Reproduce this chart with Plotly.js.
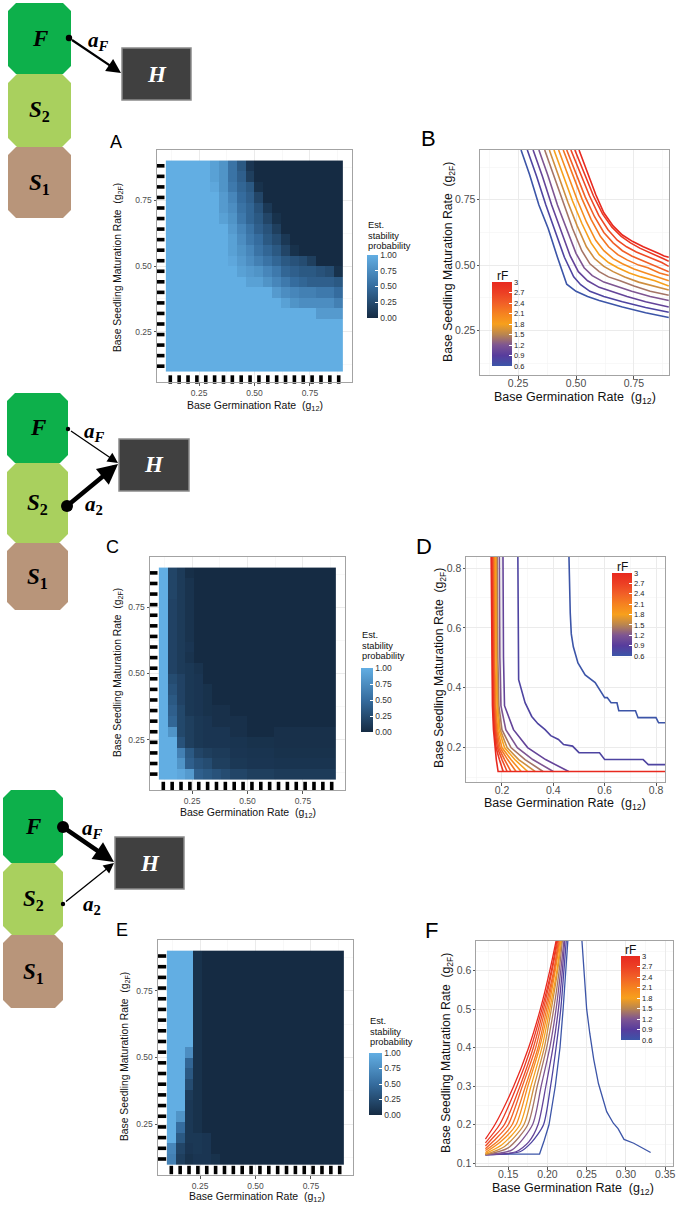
<!DOCTYPE html>
<html><head><meta charset="utf-8">
<script src="https://cdn.plot.ly/plotly-3.0.1.min.js"></script>
<style>html,body{margin:0;padding:0;background:#fff}#chart{width:677px;height:1206px}</style>
</head><body><div id="chart"></div>
<script>
// ---------------- DATA ----------------
const g12 = [0.12,0.16,0.20,0.24,0.28,0.32,0.36,0.40,0.44,0.48,0.52,0.56,0.60,0.64,0.68,0.72,0.76,0.80,0.84,0.88];
const g2F = [0.88,0.84,0.80,0.76,0.72,0.68,0.64,0.60,0.56,0.52,0.48,0.44,0.40,0.36,0.32,0.28,0.24,0.20,0.16,0.12]; // rows top -> bottom

const stabA = [
[1,1,1,1,1,.9,.8,.55,.35,.08,0,0,0,0,0,0,0,0,0,0],
[1,1,1,1,1,.9,.8,.55,.4,.15,0,0,0,0,0,0,0,0,0,0],
[1,1,1,1,1,.95,.8,.6,.45,.35,.05,0,0,0,0,0,0,0,0,0],
[1,1,1,1,1,1,.85,.7,.5,.4,.2,0,0,0,0,0,0,0,0,0],
[1,1,1,1,1,1,.85,.75,.55,.45,.3,.1,0,0,0,0,0,0,0,0],
[1,1,1,1,1,1,.9,.8,.6,.45,.35,.2,.05,0,0,0,0,0,0,0],
[1,1,1,1,1,1,1,.85,.7,.55,.4,.3,.15,0,0,0,0,0,0,0],
[1,1,1,1,1,1,1,.9,.75,.6,.5,.35,.25,.1,0,0,0,0,0,0],
[1,1,1,1,1,1,1,.9,.8,.7,.55,.45,.35,.2,.05,0,0,0,0,0],
[1,1,1,1,1,1,1,.95,.85,.75,.65,.55,.45,.35,.3,.25,.15,0,0,0],
[1,1,1,1,1,1,1,1,.9,.85,.8,.7,.6,.45,.4,.35,.35,.3,.25,.05],
[1,1,1,1,1,1,1,1,1,.9,.9,.8,.7,.6,.5,.45,.4,.4,.4,.35],
[1,1,1,1,1,1,1,1,1,1,1,1,.85,.75,.7,.65,.65,.6,.6,.5],
[1,1,1,1,1,1,1,1,1,1,1,1,1,.9,.8,.75,.75,.75,.75,.65],
[1,1,1,1,1,1,1,1,1,1,1,1,1,1,1,1,1,.85,.85,.85],
[1,1,1,1,1,1,1,1,1,1,1,1,1,1,1,1,1,1,1,1],
[1,1,1,1,1,1,1,1,1,1,1,1,1,1,1,1,1,1,1,1],
[1,1,1,1,1,1,1,1,1,1,1,1,1,1,1,1,1,1,1,1],
[1,1,1,1,1,1,1,1,1,1,1,1,1,1,1,1,1,1,1,1],
[1,1,1,1,1,1,1,1,1,1,1,1,1,1,1,1,1,1,1,1]
];
const stabC = [
[1,.2,.12,.03,0,0,0,0,0,0,0,0,0,0,0,0,0,0,0,0],
[1,.2,.12,.06,0,0,0,0,0,0,0,0,0,0,0,0,0,0,0,0],
[1,.2,.12,.06,0,0,0,0,0,0,0,0,0,0,0,0,0,0,0,0],
[1,.18,.12,.06,0,0,0,0,0,0,0,0,0,0,0,0,0,0,0,0],
[1,.18,.12,.06,0,0,0,0,0,0,0,0,0,0,0,0,0,0,0,0],
[1,.18,.12,.06,0,0,0,0,0,0,0,0,0,0,0,0,0,0,0,0],
[1,.18,.12,.06,0,0,0,0,0,0,0,0,0,0,0,0,0,0,0,0],
[1,.18,.12,.08,0,0,0,0,0,0,0,0,0,0,0,0,0,0,0,0],
[1,.18,.12,.06,0,0,0,0,0,0,0,0,0,0,0,0,0,0,0,0],
[1,.18,.12,.1,.06,0,0,0,0,0,0,0,0,0,0,0,0,0,0,0],
[1,.25,.18,.1,.08,0,0,0,0,0,0,0,0,0,0,0,0,0,0,0],
[1,.3,.18,.1,.08,.05,0,0,0,0,0,0,0,0,0,0,0,0,0,0],
[1,.35,.18,.1,.08,.05,0,0,0,0,0,0,0,0,0,0,0,0,0,0],
[1,.4,.22,.1,.08,.05,.04,.04,0,0,0,0,0,0,0,0,0,0,0,0],
[1,.45,.22,.15,.1,.08,.04,.04,.04,.04,0,0,0,0,0,0,0,0,0,0],
[1,.8,.22,.15,.1,.08,.08,.08,.04,.04,0,0,0,.04,.04,.04,.04,.04,.04,.04],
[1,1,.3,.15,.1,.08,.08,.08,.07,.07,.05,.05,.05,.04,.04,.04,.04,.04,.04,.04],
[1,1,.65,.35,.2,.15,.12,.12,.08,.08,.07,.07,.07,.05,.05,.05,.05,.05,.05,.05],
[1,1,.8,.4,.3,.25,.15,.15,.1,.1,.08,.08,.08,.07,.07,.07,.07,.07,.07,.07],
[1,1,.95,.85,.4,.35,.3,.25,.2,.2,.15,.15,.15,.12,.12,.12,.12,.12,.12,.12]
];
const stabE = [
[1,1,1,.05,0,0,0,0,0,0,0,0,0,0,0,0,0,0,0,0],
[1,1,1,.05,0,0,0,0,0,0,0,0,0,0,0,0,0,0,0,0],
[1,1,1,.05,0,0,0,0,0,0,0,0,0,0,0,0,0,0,0,0],
[1,1,1,.05,0,0,0,0,0,0,0,0,0,0,0,0,0,0,0,0],
[1,1,1,.05,0,0,0,0,0,0,0,0,0,0,0,0,0,0,0,0],
[1,1,1,.05,0,0,0,0,0,0,0,0,0,0,0,0,0,0,0,0],
[1,1,1,.05,0,0,0,0,0,0,0,0,0,0,0,0,0,0,0,0],
[1,1,1,.05,0,0,0,0,0,0,0,0,0,0,0,0,0,0,0,0],
[1,1,1,.05,0,0,0,0,0,0,0,0,0,0,0,0,0,0,0,0],
[1,1,.75,.05,0,0,0,0,0,0,0,0,0,0,0,0,0,0,0,0],
[1,1,.45,.05,0,0,0,0,0,0,0,0,0,0,0,0,0,0,0,0],
[1,1,.35,.05,0,0,0,0,0,0,0,0,0,0,0,0,0,0,0,0],
[1,1,.25,.05,0,0,0,0,0,0,0,0,0,0,0,0,0,0,0,0],
[1,1,.12,.05,0,0,0,0,0,0,0,0,0,0,0,0,0,0,0,0],
[1,1,.1,.05,0,0,0,0,0,0,0,0,0,0,0,0,0,0,0,0],
[1,.8,.1,.05,0,0,0,0,0,0,0,0,0,0,0,0,0,0,0,0],
[1,.5,.1,.05,0,0,0,0,0,0,0,0,0,0,0,0,0,0,0,0],
[1,.35,.1,.1,.08,0,0,0,0,0,0,0,0,0,0,0,0,0,0,0],
[.7,.2,.08,.1,.08,0,0,0,0,0,0,0,0,0,0,0,0,0,0,0],
[.65,.15,.05,.08,.08,.05,0,0,0,0,0,0,0,0,0,0,0,0,0,0]
];

const rF = [0.6,0.8,1.0,1.2,1.4,1.6,1.8,2.0,2.2,2.4,2.6,2.8,3.0];
const rFTicks = [0.6,0.9,1.2,1.5,1.8,2.1,2.4,2.7,3.0];
const rFTickText = ['0.6','0.9','1.2','1.5','1.8','2.1','2.4','2.7','3'];
const stabTicks = [0,0.25,0.5,0.75,1];
const stabTickText = ['0.00','0.25','0.50','0.75','1.00'];

// Panel B contour lines (one per rF value)
const B_X = [
[0.263,0.30,0.34,0.38,0.42,0.46,0.50,0.55,0.60,0.70,0.80,0.90],
[0.29,0.33,0.37,0.41,0.45,0.49,0.52,0.56,0.62,0.70,0.80,0.90],
[0.315,0.355,0.395,0.435,0.475,0.51,0.55,0.60,0.65,0.72,0.80,0.90],
[0.34,0.38,0.42,0.46,0.50,0.535,0.57,0.62,0.67,0.74,0.82,0.90],
[0.365,0.405,0.445,0.485,0.525,0.56,0.60,0.64,0.69,0.75,0.82,0.90],
[0.385,0.425,0.465,0.505,0.545,0.58,0.62,0.66,0.71,0.77,0.83,0.90],
[0.405,0.445,0.485,0.525,0.565,0.60,0.64,0.68,0.73,0.78,0.84,0.90],
[0.425,0.465,0.505,0.545,0.585,0.62,0.66,0.70,0.75,0.80,0.85,0.90],
[0.445,0.485,0.525,0.565,0.605,0.64,0.68,0.72,0.77,0.81,0.86,0.90],
[0.46,0.50,0.54,0.58,0.62,0.66,0.70,0.74,0.78,0.82,0.86,0.90],
[0.478,0.518,0.558,0.598,0.638,0.678,0.718,0.76,0.80,0.84,0.87,0.90],
[0.495,0.535,0.575,0.615,0.655,0.695,0.735,0.775,0.81,0.845,0.875,0.90],
[0.513,0.55,0.585,0.62,0.66,0.70,0.745,0.79,0.825,0.855,0.88,0.90]
];
const B_Y = [
[0.94,0.845,0.73,0.64,0.53,0.427,0.40,0.38,0.365,0.34,0.318,0.30],
[0.94,0.84,0.73,0.63,0.53,0.455,0.425,0.40,0.38,0.36,0.338,0.32],
[0.94,0.84,0.73,0.63,0.535,0.475,0.44,0.415,0.40,0.38,0.36,0.34],
[0.94,0.84,0.73,0.635,0.545,0.49,0.46,0.435,0.42,0.40,0.38,0.365],
[0.94,0.84,0.735,0.64,0.555,0.505,0.475,0.455,0.44,0.42,0.40,0.385],
[0.94,0.84,0.74,0.65,0.57,0.525,0.495,0.475,0.455,0.435,0.42,0.405],
[0.94,0.845,0.745,0.66,0.585,0.54,0.51,0.49,0.47,0.455,0.44,0.42],
[0.94,0.845,0.75,0.665,0.595,0.555,0.525,0.505,0.485,0.47,0.455,0.44],
[0.94,0.85,0.755,0.675,0.61,0.57,0.54,0.52,0.50,0.49,0.47,0.46],
[0.94,0.85,0.76,0.685,0.625,0.585,0.555,0.535,0.52,0.505,0.49,0.475],
[0.94,0.85,0.765,0.69,0.635,0.595,0.57,0.55,0.535,0.52,0.51,0.495],
[0.94,0.85,0.765,0.695,0.645,0.61,0.585,0.565,0.55,0.535,0.525,0.515],
[0.94,0.85,0.77,0.70,0.65,0.615,0.59,0.57,0.555,0.545,0.535,0.53]
];

// Panel D contour lines
const D_X = [
[0.461,0.463,0.466,0.47,0.478,0.496,0.524,0.563,0.60,0.61,0.625,0.648,0.655,0.72,0.73,0.80,0.81,0.835],
[0.262,0.263,0.265,0.29,0.316,0.34,0.368,0.39,0.42,0.44,0.475,0.50,0.58,0.60,0.75,0.77,0.835],
[0.204,0.206,0.21,0.245,0.30,0.37,0.46],
[0.19,0.192,0.196,0.215,0.26,0.32,0.40],
[0.182,0.184,0.188,0.2,0.235,0.29,0.36],
[0.178,0.18,0.184,0.193,0.22,0.265,0.33],
[0.175,0.177,0.181,0.188,0.21,0.25,0.30],
[0.17,0.172,0.176,0.183,0.2,0.235,0.275],
[0.167,0.169,0.173,0.179,0.193,0.222,0.255],
[0.165,0.167,0.17,0.176,0.187,0.21,0.235],
[0.162,0.164,0.167,0.173,0.182,0.2,0.22],
[0.16,0.162,0.165,0.17,0.177,0.19,0.205],
[0.158,0.16,0.163,0.167,0.172,0.178,0.185,0.835]
];
const D_Y = [
[0.837,0.75,0.65,0.58,0.537,0.483,0.443,0.417,0.367,0.367,0.35,0.35,0.323,0.323,0.30,0.30,0.283,0.283],
[0.837,0.6,0.427,0.35,0.304,0.28,0.26,0.24,0.227,0.21,0.205,0.183,0.183,0.16,0.16,0.143,0.143],
[0.837,0.5,0.34,0.26,0.2,0.16,0.12],
[0.837,0.5,0.34,0.26,0.2,0.16,0.12],
[0.837,0.5,0.34,0.26,0.2,0.16,0.12],
[0.837,0.5,0.34,0.26,0.2,0.16,0.12],
[0.837,0.5,0.34,0.26,0.2,0.16,0.12],
[0.837,0.5,0.34,0.26,0.2,0.16,0.12],
[0.837,0.5,0.34,0.26,0.2,0.16,0.12],
[0.837,0.5,0.34,0.26,0.2,0.16,0.12],
[0.837,0.5,0.34,0.26,0.2,0.16,0.12],
[0.837,0.5,0.34,0.26,0.2,0.16,0.12],
[0.837,0.5,0.34,0.26,0.2,0.16,0.12,0.12]
];

// Panel F contour lines (rF = 0.6 has two branches)
const F_X = [
[0.121,0.19,0.196,0.202,0.21,0.216,0.22,0.223,0.226],
[0.121,0.165,0.18,0.195,0.204,0.211,0.217,0.221,0.224],
[0.121,0.16,0.176,0.188,0.198,0.207,0.214,0.219,0.222],
[0.121,0.155,0.181,0.192,0.203,0.211,0.217,0.221],
[0.121,0.15,0.175,0.187,0.199,0.208,0.215,0.219],
[0.121,0.145,0.17,0.183,0.196,0.205,0.213,0.218],
[0.121,0.142,0.165,0.179,0.193,0.203,0.212,0.217],
[0.121,0.14,0.16,0.175,0.19,0.201,0.21,0.216],
[0.121,0.138,0.155,0.172,0.188,0.199,0.209,0.215],
[0.121,0.135,0.15,0.168,0.185,0.197,0.208,0.214],
[0.121,0.13,0.145,0.165,0.182,0.195,0.206,0.213],
[0.121,0.139,0.161,0.179,0.193,0.205,0.212],
[0.121,0.133,0.157,0.176,0.191,0.203,0.211]
];
const F_Y = [
[0.124,0.124,0.16,0.2,0.3,0.4,0.5,0.6,0.677],
[0.122,0.13,0.155,0.2,0.3,0.4,0.5,0.6,0.677],
[0.122,0.13,0.155,0.2,0.3,0.4,0.5,0.6,0.677],
[0.122,0.135,0.2,0.3,0.4,0.5,0.6,0.677],
[0.122,0.14,0.2,0.3,0.4,0.5,0.6,0.677],
[0.123,0.143,0.2,0.3,0.4,0.5,0.6,0.677],
[0.125,0.148,0.2,0.3,0.4,0.5,0.6,0.677],
[0.128,0.155,0.2,0.3,0.4,0.5,0.6,0.677],
[0.133,0.16,0.2,0.3,0.4,0.5,0.6,0.677],
[0.138,0.165,0.2,0.3,0.4,0.5,0.6,0.677],
[0.145,0.165,0.2,0.3,0.4,0.5,0.6,0.677],
[0.153,0.2,0.3,0.4,0.5,0.6,0.677],
[0.163,0.2,0.3,0.4,0.5,0.6,0.677]
];
const F_blueRight_X = [0.244,0.247,0.25,0.254,0.259,0.265,0.2755,0.284,0.29,0.2976,0.31,0.3315];
const F_blueRight_Y = [0.677,0.58,0.5,0.437,0.37,0.307,0.234,0.204,0.19,0.162,0.152,0.128];

// ---------------- STYLE / LAYOUT HELPERS ----------------
const W = 677, H = 1206;
const px = X => X / W;
const py = Y => 1 - Y / H;

const heatScale = [[0,'#152B43'],[0.5,'#356C9E'],[1,'#62AEE3']];
const rfStops = [[0,'#3C55A8'],[0.125,'#573C9D'],[0.25,'#7E5592'],[0.375,'#B98550'],[0.5,'#F7A01C'],[0.625,'#F58220'],[0.75,'#F15F27'],[0.875,'#EC3F24'],[1,'#E8291F']];
function hex2rgb(h){return [parseInt(h.slice(1,3),16),parseInt(h.slice(3,5),16),parseInt(h.slice(5,7),16)];}
function rfColor(v){
  const t = (v-0.6)/(3.0-0.6);
  for(let i=0;i<rfStops.length-1;i++){
    const a=rfStops[i], b=rfStops[i+1];
    if(t>=a[0] && t<=b[0]){
      const f=(t-a[0])/(b[0]-a[0]); const ca=hex2rgb(a[1]), cb=hex2rgb(b[1]);
      return 'rgb('+ca.map((c,k)=>Math.round(c+(cb[k]-c)*f)).join(',')+')';
    }
  }
  return rfStops[rfStops.length-1][1];
}

const panels = {
  A:{ax:'',  x:[157,352], y:[150,382], xr:[0.06,0.94], yr:[0.06,0.94]},
  B:{ax:'2', x:[480,669], y:[150,375], xr:[0.086,0.901], yr:[0.08,0.94]},
  C:{ax:'3', x:[150,345], y:[557,790], xr:[0.06,0.94], yr:[0.06,0.94]},
  D:{ax:'4', x:[466,665], y:[557,782], xr:[0.06,0.835], yr:[0.085,0.837]},
  E:{ax:'5', x:[158,353], y:[940,1175], xr:[0.06,0.94], yr:[0.06,0.94]},
  F:{ax:'6', x:[476,673], y:[941,1166], xr:[0.109,0.36], yr:[0.093,0.677]}
};
function dataX(p, X){ return p.xr[0] + (X-p.x[0])/(p.x[1]-p.x[0])*(p.xr[1]-p.xr[0]); }
function dataY(p, Y){ return p.yr[1] - (Y-p.y[0])/(p.y[1]-p.y[0])*(p.yr[1]-p.yr[0]); }

const FONT = 'Liberation Sans, Arial, sans-serif';
function axisDef(p, isY, tv, tt, minor, fs, standoff){
  return {
    range: isY ? p.yr : p.xr,
    domain: isY ? [py(p.y[1]), py(p.y[0])] : [px(p.x[0]), px(p.x[1])],
    anchor: (isY ? 'x' : 'y') + p.ax,
    tickvals: tv, ticktext: tt,
    ticks: 'outside', ticklen: 2.5, tickwidth: 1, tickcolor: '#555',
    ticklabelstandoff: standoff || 0,
    tickfont: {family: FONT, size: fs, color: '#4d4d4d'},
    showline: true, mirror: true, linecolor: '#a3a3a3', linewidth: 1,
    showgrid: true, gridcolor: '#ebebeb', gridwidth: 1,
    zeroline: false, fixedrange: true,
    minor: {tickvals: minor, showgrid: true, gridcolor: '#f4f4f4', gridwidth: 0.6, ticks: ''}
  };
}

const layout = {
  width: W, height: H, margin: {l:0, r:0, t:0, b:0},
  paper_bgcolor: '#fff', plot_bgcolor: '#fff', showlegend: false,
  shapes: [], annotations: []
};
const t25 = [0.25,0.5,0.75], t25t = ['0.25','0.50','0.75'], m25 = [0.125,0.375,0.625,0.875];
for (const k of ['A','C','E']) {
  const p = panels[k];
  layout['xaxis'+p.ax] = axisDef(p, false, t25, t25t, m25, 8.5, 0);
  layout['yaxis'+p.ax] = axisDef(p, true, t25, t25t, m25, 8.5, 0);
}
layout.xaxis2 = axisDef(panels.B, false, t25, t25t, m25, 10.5, -4);
layout.yaxis2 = axisDef(panels.B, true, t25, t25t, m25, 10.5, -1);
layout.xaxis4 = axisDef(panels.D, false, [0.2,0.4,0.6,0.8], ['0.2','0.4','0.6','0.8'], [0.1,0.3,0.5,0.7], 10.5, -4);
layout.yaxis4 = axisDef(panels.D, true, [0.2,0.4,0.6,0.8], ['0.2','0.4','0.6','0.8'], [0.1,0.3,0.5,0.7], 10.5, -1);
layout.xaxis6 = axisDef(panels.F, false, [0.15,0.2,0.25,0.3,0.35], ['0.15','0.20','0.25','0.30','0.35'], [0.125,0.175,0.225,0.275,0.325], 10.5, -4);
layout.yaxis6 = axisDef(panels.F, true, [0.1,0.2,0.3,0.4,0.5,0.6], ['0.1','0.2','0.3','0.4','0.5','0.6'], [0.15,0.25,0.35,0.45,0.55,0.65], 10.5, -1);

const traces = [];

// ---------- heatmaps ----------
const heatCb = {
  A:{X:367, Y:255, th:11, len:63, tl:[225,235.5,246]},
  C:{X:361, Y:668, th:12, len:64, tl:[635,645.5,656]},
  E:{X:369, Y:1053, th:13, len:62, tl:[1021,1031.5,1042]}
};
const heatData = {A: stabA, C: stabC, E: stabE};
const rugPos = {A:{lx:160.3, by:379.5}, C:{lx:153.3, by:786}, E:{lx:162, by:1170}};
const cbTitleLines = ['Est.','stability','probability'];
for (const k of ['A','C','E']) {
  const p = panels[k], cb = heatCb[k];
  traces.push({
    type:'heatmap', x: g12, y: g2F.slice().reverse(), z: heatData[k].slice().reverse(),
    xaxis:'x'+p.ax, yaxis:'y'+p.ax, zmin:0, zmax:1, colorscale: heatScale, hoverinfo:'skip',
    showscale:true,
    colorbar:{x:px(cb.X), xanchor:'left', y:py(cb.Y), yanchor:'top', lenmode:'pixels', len:cb.len,
      thickness:cb.th, xpad:0, ypad:0, outlinewidth:0, ticks:'inside', ticklen:2.5, tickcolor:'#fff',
      tickvals: stabTicks, ticktext: stabTickText,
      tickfont:{family:FONT, size:8.5, color:'#333'}}
  });
  cbTitleLines.forEach((t,i)=>{
    layout.annotations.push({xref:'paper', yref:'paper', x:px(cb.X-1), y:py(cb.tl[i]), xanchor:'left', yanchor:'middle',
      showarrow:false, text:t, font:{family:FONT, size:9.3, color:'#111'}});
  });
  // rug marks
  const r = rugPos[k];
  traces.push({type:'scatter', mode:'markers', xaxis:'x'+p.ax, yaxis:'y'+p.ax, cliponaxis:false, hoverinfo:'skip',
    x: g2F.map(()=>dataX(p, r.lx)), y: g2F,
    marker:{symbol:'line-ew', size:6, line:{width:3.6, color:'#000'}}});
  traces.push({type:'scatter', mode:'markers', xaxis:'x'+p.ax, yaxis:'y'+p.ax, cliponaxis:false, hoverinfo:'skip',
    x: g12, y: g12.map(()=>dataY(p, r.by)),
    marker:{symbol:'line-ns', size:6, line:{width:3.6, color:'#000'}}});
}

// ---------- contour lines ----------
function addLines(ax, X, Y, width, shape){
  for (let i=0;i<rF.length;i++){
    traces.push({type:'scatter', mode:'lines', xaxis:'x'+ax, yaxis:'y'+ax, x:X[i], y:Y[i], hoverinfo:'skip',
      line:{color: rfColor(rF[i]), width: width, shape: shape && i>0 ? shape : 'linear', smoothing: 0.7}});
  }
}
addLines('2', B_X, B_Y, 1.6, null);
addLines('4', D_X, D_Y, 1.6, null);
addLines('6', F_X, F_Y, 1.3, 'spline');
traces.push({type:'scatter', mode:'lines', xaxis:'x6', yaxis:'y6', x:F_blueRight_X, y:F_blueRight_Y, hoverinfo:'skip',
  line:{color: rfColor(0.6), width:1.3}});

// rF colorbars (legend-only traces)
const rfCb = {
  '2':{X:492, Y:282, len:84, th:20, tx:502, ty:276},
  '4':{X:612, Y:573, len:83, th:20, tx:622, ty:567},
  '6':{X:621, Y:956, len:84, th:19, tx:630, ty:950}
};
for (const ax of ['2','4','6']) {
  const c = rfCb[ax];
  traces.push({type:'scatter', mode:'markers', xaxis:'x'+ax, yaxis:'y'+ax, x:[null], y:[null], hoverinfo:'skip',
    marker:{color:[0.6], cmin:0.6, cmax:3.0, colorscale: rfStops, showscale:true, size:1,
      colorbar:{x:px(c.X), xanchor:'left', y:py(c.Y), yanchor:'top', lenmode:'pixels', len:c.len, thickness:c.th,
        xpad:0, ypad:0, outlinewidth:0, ticks:'inside', ticklen:3, tickcolor:'#fff',
        tickvals: rFTicks, ticktext: rFTickText, tickfont:{family:FONT, size:7.5, color:'#222'}}}});
  layout.annotations.push({xref:'paper', yref:'paper', x:px(c.tx), y:py(c.ty), xanchor:'center', yanchor:'middle',
    showarrow:false, text:'rF', font:{family:FONT, size:12, color:'#111'}});
}

// ---------- axis titles ----------
const xT = 'Base Germination Rate  (g<sub>12</sub>)';
const yT = 'Base Seedling Maturation Rate  (g<sub>2F</sub>)';
function title(X, Y, text, size, rot){
  layout.annotations.push({xref:'paper', yref:'paper', x:px(X), y:py(Y), xanchor:'center', yanchor:'middle',
    showarrow:false, text:text, textangle: rot||0, font:{family:FONT, size:size, color:'#111'}});
}
title(255, 406, xT, 10.5); title(118, 268, yT, 10.3, -90);
title(248, 813, xT, 10.5); title(118, 673, yT, 10.3, -90);
title(257, 1197, xT, 10.5); title(125, 1057, yT, 10.3, -90);
title(575, 398, xT, 12.5); title(449, 262, yT, 12.2, -90);
title(565, 804, xT, 12.5); title(440, 668, yT, 12.2, -90);
title(573, 1189, xT, 12.5); title(447, 1053, yT, 12.2, -90);

// panel letters
function letter(X, Y, t, s){
  layout.annotations.push({xref:'paper', yref:'paper', x:px(X), y:py(Y), xanchor:'center', yanchor:'middle',
    showarrow:false, text:t, font:{family:FONT, size:s, color:'#000'}});
}
letter(116,142,'A',18); letter(428,139,'B',22);
letter(112,547,'C',18); letter(424,546,'D',22);
letter(122,930,'E',18); letter(431,930,'F',22);

// ---------- food-web diagrams ----------
function octa(x0,y0,x1,y1,c,fill){
  const pts = [[x0+c,y0],[x1-c,y0],[x1,y0+c],[x1,y1-c],[x1-c,y1],[x0+c,y1],[x0,y1-c],[x0,y0+c]];
  const path = 'M ' + pts.map(q=>px(q[0]).toFixed(5)+' '+py(q[1]).toFixed(5)).join(' L ') + ' Z';
  layout.shapes.push({type:'path', xref:'paper', yref:'paper', path:path, fillcolor:fill, line:{width:0}, layer:'above'});
}
function rect(x0,y0,x1,y1,fill,lc){
  layout.shapes.push({type:'rect', xref:'paper', yref:'paper', x0:px(x0), x1:px(x1), y0:py(y1), y1:py(y0),
    fillcolor:fill, line:{color:lc, width:1.5}, layer:'above'});
}
function dot(cx,cy,r){
  layout.shapes.push({type:'circle', xref:'paper', yref:'paper', x0:px(cx-r), x1:px(cx+r), y0:py(cy+r), y1:py(cy-r),
    fillcolor:'#000', line:{width:0}, layer:'above'});
}
function arrow(tx,ty,hx,hy,w,size){
  layout.annotations.push({xref:'paper', yref:'paper', x:px(hx), y:py(hy), axref:'pixel', ayref:'pixel',
    ax: tx-hx, ay: ty-hy, showarrow:true, arrowhead:2, arrowsize:size, arrowwidth:w, arrowcolor:'#000',
    standoff:0, startstandoff:0, text:' '});
}
const SERIF = 'Liberation Serif, Times New Roman, serif';
function dtext(X,Y,t,size,color){
  layout.annotations.push({xref:'paper', yref:'paper', x:px(X), y:py(Y), xanchor:'center', yanchor:'middle',
    showarrow:false, text:t, font:{family:SERIF, size:size, color:color||'#000'}});
}
const tF = '<b><i>F</i></b>', tS2 = '<b><i>S</i><sub>2</sub></b>', tS1 = '<b><i>S</i><sub>1</sub></b>', tH = '<b><i>H</i></b>';
const taF = '<b><i>a<sub>F</sub></i></b>', ta2 = '<b><i>a</i><sub>2</sub></b>';
const cF = '#0DB04B', cS2 = '#A9D05E', cS1 = '#B8957A', cH = '#404040', cHb = '#8a8a8a';
function diagram(x0,x1,fy,sy,s1y,hb){
  octa(x0,fy[0],x1,fy[1],8,cF); octa(x0,sy[0],x1,sy[1],9,cS2); octa(x0,s1y[0],x1,s1y[1],8,cS1);
  rect(hb[0],hb[1],hb[2],hb[3],cH,cHb);
  const cx=(x0+x1)/2;
  dtext(cx,(fy[0]+fy[1])/2,tF,23); dtext(cx,(sy[0]+sy[1])/2+1,tS2,23); dtext(cx,(s1y[0]+s1y[1])/2+1,tS1,23);
  dtext((hb[0]+hb[2])/2,(hb[1]+hb[3])/2,tH,23,'#fff');
}
// diagram 1
diagram(8,71,[3,74],[74,147],[147,218],[122,48,191,100]);
dot(69,38,3.2); arrow(69,38,121,73,2.2,1.3); dtext(98,41,taF,21);
// diagram 2
diagram(7,68,[393,463],[463,543],[543,610],[119,439,189,491]);
dot(68,429,2.2); arrow(68,429,118,463,1.3,1.6); dtext(95,432,taF,21);
dot(67,506,6); arrow(67,506,118,464,4.5,0.9); dtext(94,505,ta2,21);
// diagram 3
diagram(3,63,[790,863],[863,935],[935,1008],[115,837,184,889]);
dot(63,827,6); arrow(63,827,114,862,4.5,0.9); dtext(92,829,taF,21);
dot(63,904,2.2); arrow(63,904,114,863,1.3,1.6); dtext(92,905,ta2,21);

Plotly.newPlot('chart', traces, layout, {displayModeBar:false, staticPlot:true});
</script></body></html>
